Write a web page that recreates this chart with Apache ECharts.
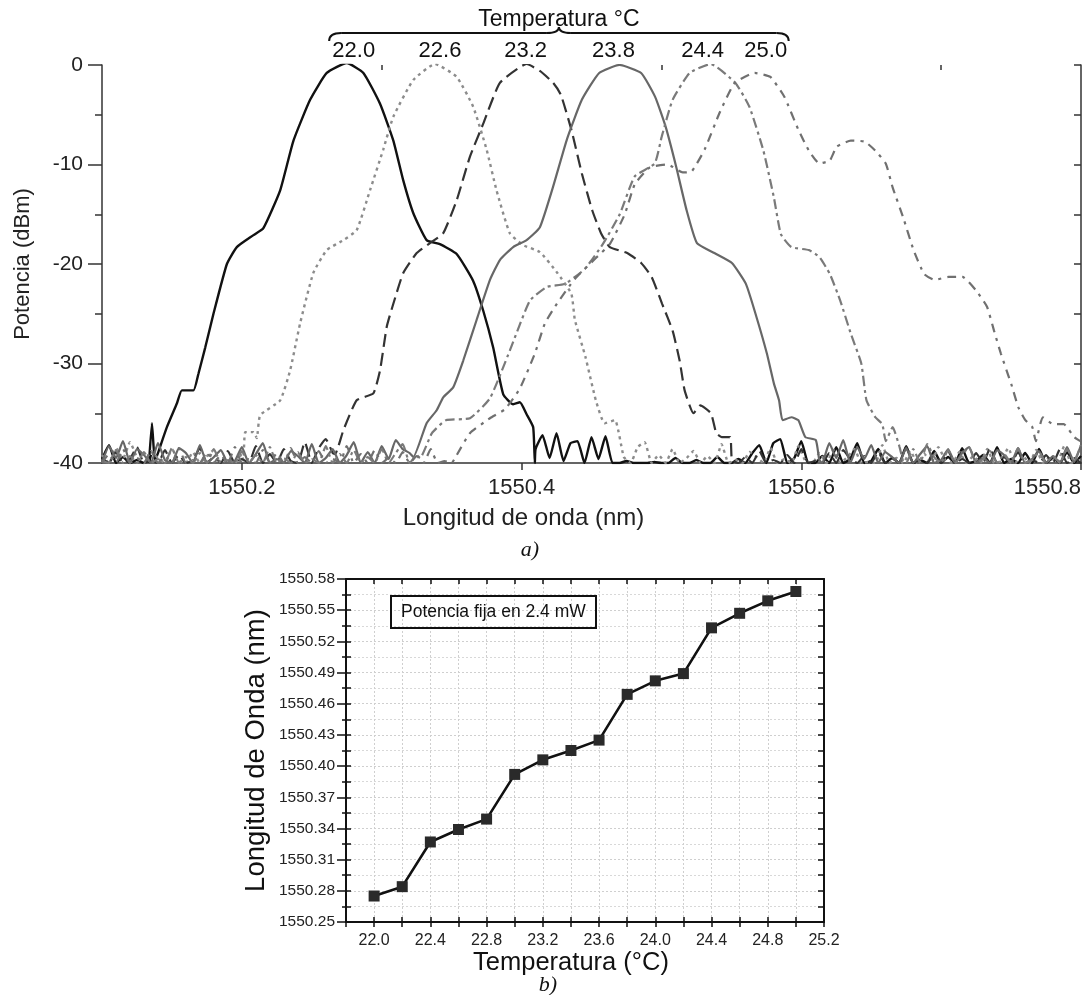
<!DOCTYPE html>
<html><head><meta charset="utf-8">
<script src="https://cdn.jsdelivr.net/npm/echarts@6/dist/echarts.min.js"></script>
<style>html,body{margin:0;padding:0;background:#fff}#c{width:1086px;height:995px}</style>
</head><body><div id="c"></div>
<script>
// ---------- Chart a) : spectra (wavelength nm, power dBm) ----------
const tempLabelsA = ['22.0', '22.6', '23.2', '23.8', '24.4', '25.0'];
const xTickLabelsA = [1550.2, 1550.4, 1550.6, 1550.8];
const xMinorTicksA = [1550.3, 1550.5, 1550.7];

const lobe22_0 = [[1550.1336,-40],[1550.1357,-36.0],[1550.1378,-39.8],[1550.1400,-39.0],[1550.1464,-36.4],[1550.1536,-34.0],[1550.1571,-32.7],[1550.1654,-32.7],[1550.169,-31.0],[1550.1738,-28.4],[1550.1797,-25.0],[1550.1893,-20.0],[1550.1964,-18.3],[1550.2083,-17.1],[1550.2154,-16.4],[1550.2274,-12.6],[1550.2369,-7.6],[1550.2488,-3.5],[1550.2607,-0.8],[1550.275,0.2],[1550.2869,-0.8],[1550.2988,-3.9],[1550.3083,-7.6],[1550.3154,-11.6],[1550.3226,-14.9],[1550.3321,-17.6],[1550.3416,-18.0],[1550.3536,-19.0],[1550.3654,-21.7],[1550.3726,-24.7],[1550.3797,-28.4],[1550.3869,-33.1],[1550.394,-34.1],[1550.3988,-33.9],[1550.4036,-35.1],[1550.4083,-36.4],[1550.4095,-40]];
const lobe22_6 = [[1550.2011,-40],[1550.2024,-36.9],[1550.2083,-36.9],[1550.2107,-37.5],[1550.2131,-35.2],[1550.2274,-33.7],[1550.2345,-30.7],[1550.2416,-26.0],[1550.2511,-20.9],[1550.2607,-18.6],[1550.2726,-17.6],[1550.2821,-16.6],[1550.2916,-12.6],[1550.3011,-8.5],[1550.3083,-5.2],[1550.3226,-1.5],[1550.3381,0.1],[1550.3536,-1.2],[1550.3654,-4.2],[1550.375,-8.5],[1550.3821,-12.6],[1550.3916,-16.9],[1550.4011,-18.1],[1550.4131,-18.8],[1550.4256,-20.9],[1550.4356,-23.0],[1550.4381,-25.6],[1550.4456,-29.3],[1550.4531,-33.7],[1550.4593,-36.0],[1550.4668,-35.7],[1550.4731,-39.4]];
const lobe23_2 = [[1550.2667,-39.1],[1550.2726,-36.7],[1550.2821,-33.7],[1550.294,-33.0],[1550.2988,-30.7],[1550.3036,-26.3],[1550.3083,-24.0],[1550.3154,-20.9],[1550.325,-18.9],[1550.3345,-17.9],[1550.344,-16.9],[1550.3536,-13.6],[1550.3631,-9.2],[1550.3726,-5.9],[1550.3845,-1.8],[1550.4036,0.1],[1550.4131,-0.6],[1550.4226,-1.8],[1550.4281,-3.0],[1550.4356,-6.5],[1550.4431,-10.9],[1550.4505,-14.6],[1550.4568,-16.9],[1550.4631,-18.3],[1550.4755,-18.9],[1550.4855,-19.9],[1550.493,-21.3],[1550.5005,-24.0],[1550.508,-26.7],[1550.513,-29.7],[1550.5166,-32.7],[1550.5229,-35.0],[1550.5279,-34.2],[1550.5354,-35.0],[1550.5392,-37.0],[1550.5431,-37.4],[1550.5492,-37.4],[1550.5504,-39.7]];
const lobe23_8 = [[1550.3226,-39.4],[1550.3321,-36.0],[1550.3393,-34.7],[1550.344,-33.4],[1550.3511,-32.4],[1550.3583,-29.7],[1550.3679,-25.6],[1550.3774,-21.6],[1550.3845,-19.6],[1550.394,-18.3],[1550.4036,-17.6],[1550.4131,-16.3],[1550.4226,-12.2],[1550.4326,-7.4],[1550.4431,-3.5],[1550.4555,-0.8],[1550.47,0.0],[1550.4855,-0.8],[1550.4955,-3.2],[1550.503,-6.2],[1550.5105,-10.2],[1550.518,-14.6],[1550.5254,-17.9],[1550.5379,-18.9],[1550.5504,-19.9],[1550.5604,-22.0],[1550.5679,-25.3],[1550.5754,-29.0],[1550.5804,-32.0],[1550.5841,-33.7],[1550.5866,-35.7],[1550.5929,-35.4],[1550.5979,-35.7],[1550.6029,-37.4],[1550.6104,-37.7],[1550.6129,-39.7]];
const lobe24_4 = [[1550.3274,-39.5],[1550.3359,-37.0],[1550.3459,-35.7],[1550.3631,-35.5],[1550.3774,-33.5],[1550.3916,-28.7],[1550.4059,-23.7],[1550.4181,-22.3],[1550.4309,-22.0],[1550.4452,-20.5],[1550.4581,-18.0],[1550.4702,-15.0],[1550.4809,-11.2],[1550.4952,-9.9],[1550.5002,-7.2],[1550.508,-3.5],[1550.5202,-0.8],[1550.5352,0.1],[1550.5529,-1.8],[1550.5629,-4.2],[1550.5729,-8.6],[1550.5804,-13.3],[1550.5854,-17.0],[1550.5929,-18.3],[1550.6054,-18.6],[1550.6129,-19.3],[1550.6204,-21.0],[1550.6279,-23.7],[1550.6354,-27.0],[1550.6429,-30.0],[1550.6466,-33.7],[1550.6529,-35.4],[1550.6579,-36.1],[1550.6604,-37.8],[1550.6653,-36.4],[1550.6703,-38.4],[1550.6728,-39.8]];
const lobe25_0 = [[1550.3524,-39.5],[1550.3631,-37.0],[1550.3774,-35.5],[1550.3881,-34.6],[1550.3988,-32.5],[1550.4095,-29.0],[1550.4166,-26.0],[1550.4252,-24.0],[1550.4381,-21.5],[1550.4524,-19.5],[1550.4631,-18.0],[1550.4738,-15.0],[1550.4809,-12.0],[1550.4916,-10.3],[1550.5045,-10.0],[1550.5152,-10.8],[1550.5216,-10.7],[1550.5309,-8.5],[1550.5416,-4.8],[1550.5524,-1.8],[1550.5667,-0.8],[1550.5779,-1.2],[1550.5879,-3.2],[1550.5979,-6.5],[1550.6054,-8.6],[1550.6129,-9.9],[1550.6204,-9.6],[1550.6254,-8.2],[1550.6354,-7.6],[1550.6454,-7.7],[1550.6529,-8.6],[1550.6604,-9.9],[1550.6653,-12.3],[1550.6728,-15.3],[1550.6803,-18.6],[1550.6878,-21.0],[1550.6953,-21.6],[1550.7053,-21.3],[1550.7152,-21.3],[1550.7252,-22.7],[1550.7328,-24.3],[1550.7378,-26.7],[1550.7427,-29.0],[1550.7502,-32.1],[1550.7552,-34.4],[1550.7602,-35.7],[1550.7652,-36.4],[1550.7677,-37.8],[1550.7727,-35.4],[1550.7802,-36.1],[1550.7877,-36.1],[1550.7952,-37.4],[1550.7995,-37.8]];

// noise floor readings, sampled every 0.005 nm from the given start
const noise22_0L = [-39.6,-38.2,-40,-39.4,-40,-39.7,-40,-39.2];
const noise22_0R = [-38.6,-37.2,-39.5,-37.0,-39.8,-38.0,-37.8,-40,-37.4,-39.6,-37.3,-40,-40,-39.8,-40,-40,-40,-39.9,-40,-40,-39.5,-40,-40,-39.7,-40,-40,-39.4,-40,-40,-39.6,-40,-39.0,-38.2,-40,-38.0,-37.6,-40,-39.5,-37.8,-40,-40,-39.3,-40,-38.4,-40,-39.6,-38.0,-40,-39.8,-38.6,-40,-39.5,-40,-38.3,-40,-39.7,-40,-38.8,-40,-39.4,-40,-38.5,-40,-39.8,-39.2,-40,-38.4,-40,-39.6,-40,-39.0,-40,-38.6,-40,-39.5,-40,-38.9,-40,-39.3];
const noise22_6L = [-39.2,-40,-38.5,-39.6,-37.9,-39.4,-40,-38.8,-39.5,-40,-38.6,-39.8,-40,-38.9,-40,-39.3,-38.7,-40,-39.6,-40,-39.1];
const noise22_6R = [-40,-38.4,-37.9,-40,-39.2,-40,-38.6,-40,-39.5,-38.8,-40,-39.3,-40,-38.1,-40,-39.7,-40,-38.9,-39.4,-40,-38.5,-40,-39.6,-40,-38.3,-39.8,-40,-39.0,-40,-38.7,-40,-39.4,-38.6,-40,-39.9,-40,-38.2,-40,-39.5,-40,-38.8,-40,-39.1,-40,-38.4,-39.7,-40,-38.9,-40,-39.3,-40,-38.6,-40,-39.8,-38.5,-40,-39.2,-40,-38.7,-40,-39.4,-40,-38.3,-40,-39.6];
const noise23_2L = [-39.5,-40,-38.9,-40,-39.6,-38.4,-40,-39.8,-40,-38.7,-40,-39.2,-40,-39.7,-38.5,-40,-39.4,-40,-38.8,-40,-39.6,-40,-38.3,-40,-39.1,-40,-38.6,-39.8,-40,-37.9,-40,-38.5,-37.6,-39.0];
const noise23_2R = [-40,-39.4,-40,-38.8,-40,-39.7,-40,-39.2,-40,-38.6,-40,-39.8,-40,-39.0,-40,-38.7,-39.6,-40,-39.3,-40,-38.9,-40,-39.5,-40,-38.4,-40,-39.7,-40,-39.1,-40,-38.8,-40,-39.6,-40,-39.0,-40,-38.5,-40,-39.4,-40,-38.9,-40,-39.7,-40,-39.2,-40,-38.6,-40,-39.5,-40];
const noise23_8L = [-40,-38.3,-39.5,-37.8,-40,-38.6,-39.2,-40,-38.0,-39.7,-40,-38.5,-39.0,-40,-38.2,-40,-39.4,-38.7,-40,-39.8,-38.4,-40,-39.1,-38.0,-40,-39.6,-40,-38.8,-39.3,-40,-38.1,-40,-39.5,-38.6,-40,-39.2,-37.9,-40,-38.9,-40,-38.3,-39.6,-37.7,-38.6,-39.0];
const noise23_8R = [-40,-38.0,-39.5,-37.7,-40,-38.4,-39.6,-38.2,-40,-38.9,-39.4,-40,-38.5,-40,-39.1,-38.3,-40,-39.7,-38.6,-40,-39.0,-38.4,-40,-39.5,-40,-38.7,-39.2,-40,-38.5,-40,-39.6,-38.8,-40,-39.3,-40,-38.4,-39.9,-38.2];
const noise24_4L = [-39.8,-40,-38.7,-40,-39.3,-40,-38.9,-40,-39.6,-40,-38.5,-40,-39.4,-40,-39.0,-40,-38.6,-40,-39.7,-40,-38.8,-40,-39.2,-40,-38.4,-40,-39.5,-40,-38.9,-40,-39.6,-40,-38.3,-40,-39.1,-40,-38.7,-40,-39.4,-40,-38.6,-40,-39.0,-38.1,-40,-39.2];
const noise24_4R = [-40,-38.6,-40,-38.1,-39.4,-40,-38.7,-40,-39.2,-38.4,-40,-39.6,-38.8,-40,-39.1,-40,-38.5,-40,-39.7,-38.9,-40,-39.3,-40,-38.6,-39.8,-38.2];
const noise25_0L = [-40,-39.1,-40,-38.6,-40,-39.5,-40,-38.8,-40,-39.3,-40,-38.5,-40,-39.7,-40,-38.9,-40,-39.2,-40,-38.4,-40,-39.6,-40,-38.7,-40,-39.0,-40,-38.5,-40,-39.4,-40,-38.8,-40,-39.6,-40,-38.3,-40,-39.1,-40,-38.7,-40,-39.5,-40,-38.9,-40,-39.3,-40,-38.6,-40,-39.8,-40];
const noiseStarts = {
  '22.0': [1550.100, 1550.410], '22.6': [1550.100, 1550.478], '23.2': [1550.100, 1550.555],
  '23.8': [1550.100, 1550.615], '24.4': [1550.100, 1550.675], '25.0': [1550.100, null]
};

// ---------- Chart b) : peak wavelength vs temperature ----------
const tempB = [22.0, 22.2, 22.4, 22.6, 22.8, 23.0, 23.2, 23.4, 23.6, 23.8, 24.0, 24.2, 24.4, 24.6, 24.8, 25.0];
const wlB = [1550.275, 1550.284, 1550.327, 1550.339, 1550.349, 1550.392, 1550.406, 1550.415, 1550.425, 1550.469, 1550.482, 1550.489, 1550.533, 1550.547, 1550.559, 1550.568];
const legendB = 'Potencia fija en 2.4 mW';

// ---------- build ----------
const STEP = 0.005;
function noisePts(start, vals) { return vals.map((v, i) => [+(start + i * STEP).toFixed(4), v]); }
function buildSeries(key, lobe, nL, nR) {
  const st = noiseStarts[key];
  let d = noisePts(st[0], nL).concat(lobe);
  if (nR) d = d.concat(noisePts(st[1], nR));
  return d;
}
const dataA = {
  '22.0': buildSeries('22.0', lobe22_0, noise22_0L, noise22_0R),
  '22.6': buildSeries('22.6', lobe22_6, noise22_6L, noise22_6R),
  '23.2': buildSeries('23.2', lobe23_2, noise23_2L, noise23_2R),
  '23.8': buildSeries('23.8', lobe23_8, noise23_8L, noise23_8R),
  '24.4': buildSeries('24.4', lobe24_4, noise24_4L, noise24_4R),
  '25.0': buildSeries('25.0', lobe25_0, noise25_0L, null)
};
const styleA = {
  '22.0': { color: '#111111', width: 2.4, type: 'solid' },
  '22.6': { color: '#8c8c8c', width: 2.4, type: [3, 4] },
  '23.2': { color: '#333333', width: 2.2, type: [13, 6] },
  '23.8': { color: '#676767', width: 2.2, type: 'solid' },
  '24.4': { color: '#7a7a7a', width: 2.2, type: [10, 4, 3, 4] },
  '25.0': { color: '#707070', width: 2.2, type: [9, 6, 3, 6] }
};

const F = 'Liberation Sans, Arial, sans-serif';
const SERIF = 'Liberation Serif, DejaVu Serif, serif';
const AX = '#333';
const chart = echarts.init(document.getElementById('c'), null, { renderer: 'canvas' });

const seriesA = tempLabelsA.map(k => ({
  name: k, type: 'line', xAxisIndex: 0, yAxisIndex: 0, data: dataA[k],
  showSymbol: false, symbol: 'none', smooth: 0.15, clip: true,
  lineStyle: styleA[k], z: 3, silent: true
}));

const option = {
  animation: false,
  backgroundColor: '#fff',
  grid: [
    { left: 102, top: 65, width: 979, height: 398, outerBoundsMode: 'none', containLabel: false },
    { left: 346, top: 579, width: 478, height: 343, outerBoundsMode: 'none', containLabel: false }
  ],
  title: [
    { text: legendB, left: 391, top: 596, padding: [7, 10, 7, 10], borderWidth: 2, borderColor: '#111',
      textStyle: { fontFamily: F, fontSize: 17.5, fontWeight: 'normal', color: '#111' } }
  ],
  xAxis: [
    { gridIndex: 0, type: 'value', min: 1550.1, max: 1550.8, position: 'bottom',
      axisLine: { onZero: false, lineStyle: { color: AX, width: 1.5 } },
      axisTick: { customValues: xTickLabelsA, length: 7, lineStyle: { color: AX, width: 1.5 } },
      axisLabel: { customValues: xTickLabelsA, margin: 14, fontFamily: F, fontSize: 22, color: '#222',
        alignMaxLabel: 'right', formatter: v => v.toFixed(1) },
      splitLine: { show: false },
      name: 'Longitud de onda (nm)', nameLocation: 'middle', nameGap: 43,
      nameTextStyle: { fontFamily: F, fontSize: 24, color: '#222', padding: [0, 136, 0, 0] } },
    { gridIndex: 0, type: 'value', min: 1550.1, max: 1550.8, position: 'bottom',
      axisLine: { show: false }, axisLabel: { show: false }, splitLine: { show: false },
      axisTick: { customValues: xMinorTicksA, length: 5, lineStyle: { color: AX, width: 1.5 } } },
    { gridIndex: 1, type: 'value', min: 21.8, max: 25.2, interval: 0.2, position: 'bottom',
      axisLine: { onZero: false, lineStyle: { color: '#111', width: 2 } },
      axisTick: { length: 5, lineStyle: { color: '#111', width: 1.5 } },
      axisLabel: { margin: 11, fontFamily: F, fontSize: 16, color: '#222',
        formatter: v => (Math.round(v * 10) % 4 === 0 ? v.toFixed(1) : '') },
      splitLine: { show: true, lineStyle: { color: '#cfcfcf', width: 1, type: [2, 2] } },
      name: 'Temperatura (°C)', nameLocation: 'middle', nameGap: 27,
      nameTextStyle: { fontFamily: F, fontSize: 25.5, color: '#111', padding: [0, 28, 0, 0] } },
    { gridIndex: 1, type: 'value', min: 21.8, max: 25.2, interval: 0.2, position: 'bottom',
      axisLine: { show: false }, axisLabel: { show: false }, splitLine: { show: false },
      axisTick: { inside: true, length: 5, lineStyle: { color: '#111', width: 1.5 } } },
    { gridIndex: 1, type: 'value', min: 21.8, max: 25.2, interval: 0.2, position: 'top',
      axisLine: { lineStyle: { color: '#111', width: 2 } }, axisLabel: { show: false }, splitLine: { show: false },
      axisTick: { inside: true, length: 5, lineStyle: { color: '#111', width: 1.5 } } }
  ],
  yAxis: [
    { gridIndex: 0, type: 'value', min: -40, max: 0, interval: 10, position: 'left',
      axisLine: { lineStyle: { color: AX, width: 1.5 } },
      axisTick: { length: 14, lineStyle: { color: AX, width: 1.5 } },
      minorTick: { show: true, splitNumber: 2, length: 7, lineStyle: { color: AX, width: 1.5 } },
      axisLabel: { margin: 19, fontFamily: F, fontSize: 21, color: '#222' },
      splitLine: { show: false },
      name: 'Potencia (dBm)', nameLocation: 'middle', nameGap: 68, nameRotate: 90,
      nameTextStyle: { fontFamily: F, fontSize: 22, color: '#222' } },
    { gridIndex: 0, type: 'value', min: -40, max: 0, interval: 5, position: 'right',
      axisLine: { lineStyle: { color: AX, width: 1.5 } },
      axisTick: { inside: true, length: 7, lineStyle: { color: AX, width: 1.5 } },
      axisLabel: { show: false }, splitLine: { show: false } },
    { gridIndex: 1, type: 'value', min: 1550.25, max: 1550.58, interval: 0.03, position: 'left',
      axisLine: { lineStyle: { color: '#111', width: 2 } },
      axisTick: { length: 9, lineStyle: { color: '#111', width: 1.5 } },
      minorTick: { show: true, splitNumber: 2, length: 4, lineStyle: { color: '#111', width: 1.5 } },
      axisLabel: { margin: 11, fontFamily: F, fontSize: 15.5, color: '#222', formatter: v => v.toFixed(2) },
      splitLine: { show: true, lineStyle: { color: '#cfcfcf', width: 1, type: [2, 2] } },
      minorSplitLine: { show: true, lineStyle: { color: '#d8d8d8', width: 1, type: [2, 2] } },
      name: 'Longitud de Onda (nm)', nameLocation: 'middle', nameGap: 76, nameRotate: 90,
      nameTextStyle: { fontFamily: F, fontSize: 27.5, color: '#111' } },
    { gridIndex: 1, type: 'value', min: 1550.25, max: 1550.58, interval: 0.015, position: 'left',
      axisLine: { show: false }, axisLabel: { show: false }, splitLine: { show: false },
      axisTick: { inside: true, length: 5, lineStyle: { color: '#111', width: 1.5 } } },
    { gridIndex: 1, type: 'value', min: 1550.25, max: 1550.58, interval: 0.015, position: 'right',
      axisLine: { lineStyle: { color: '#111', width: 2 } }, axisLabel: { show: false }, splitLine: { show: false },
      axisTick: { inside: true, length: 6, lineStyle: { color: '#111', width: 1.5 } } }
  ],
  series: seriesA.concat([
    { name: 'b', type: 'line', xAxisIndex: 2, yAxisIndex: 2,
      data: tempB.map((t, i) => [t, wlB[i]]),
      symbol: 'rect', symbolSize: 11, showSymbol: true,
      itemStyle: { color: '#2a2a2a' }, lineStyle: { color: '#111', width: 2.6 }, z: 5 }
  ])
};
chart.setOption(option);

// annotations: temperature labels above each peak, brace and captions
function peakOf(d) { let b = d[0]; d.forEach(p => { if (p[1] > b[1]) b = p; }); return b; }
const labelShift = { '22.0': 7, '22.6': 5, '23.2': -1, '23.8': -6, '24.4': -8, '25.0': 11 };
const g = [];
tempLabelsA.forEach(k => {
  const pk = peakOf(dataA[k]);
  const px = chart.convertToPixel({ xAxisIndex: 0, yAxisIndex: 0 }, pk);
  g.push({ type: 'text', x: px[0] + labelShift[k], y: 51, style: { text: k, font: '22px ' + F, fill: '#111', align: 'center', verticalAlign: 'middle' } });
});
const L = chart.convertToPixel({ xAxisIndex: 0 }, 1550.2624), R = chart.convertToPixel({ xAxisIndex: 0 }, 1550.591);
const M = (L + R) / 2;
const bs = { stroke: '#111', lineWidth: 2, fill: null };
g.push({ type: 'bezierCurve', shape: { x1: L, y1: 41, cpx1: L, cpy1: 33, x2: L + 12, y2: 33 }, style: bs });
g.push({ type: 'line', shape: { x1: L + 12, y1: 33, x2: M - 12, y2: 33 }, style: bs });
g.push({ type: 'bezierCurve', shape: { x1: M - 12, y1: 33, cpx1: M, cpy1: 33, x2: M, y2: 27 }, style: bs });
g.push({ type: 'bezierCurve', shape: { x1: M, y1: 27, cpx1: M, cpy1: 33, x2: M + 12, y2: 33 }, style: bs });
g.push({ type: 'line', shape: { x1: M + 12, y1: 33, x2: R - 12, y2: 33 }, style: bs });
g.push({ type: 'bezierCurve', shape: { x1: R - 12, y1: 33, cpx1: R, cpy1: 33, x2: R, y2: 41 }, style: bs });
g.push({ type: 'text', x: M, y: 20, style: { text: 'Temperatura °C', font: '23px ' + F, fill: '#111', align: 'center', verticalAlign: 'middle' } });
g.push({ type: 'text', x: 530, y: 550, style: { text: 'a)', font: 'italic 22px ' + SERIF, fill: '#111', align: 'center', verticalAlign: 'middle' } });
g.push({ type: 'text', x: 548, y: 985, style: { text: 'b)', font: 'italic 22px ' + SERIF, fill: '#111', align: 'center', verticalAlign: 'middle' } });
chart.setOption({ graphic: g });
</script>
</body></html>
